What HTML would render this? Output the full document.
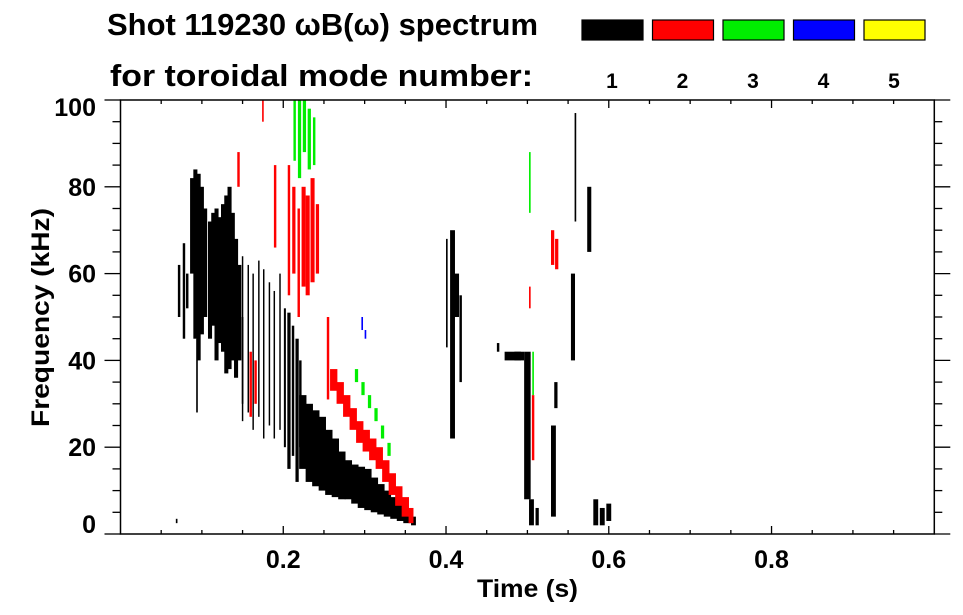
<!DOCTYPE html>
<html><head><meta charset="utf-8"><style>
html,body{margin:0;padding:0;background:#fff;}
svg{display:block;font-family:"Liberation Sans",Arial,sans-serif;font-weight:bold;}
</style></head><body>
<svg id="chart" width="963" height="615" viewBox="0 0 963 615" xmlns="http://www.w3.org/2000/svg">
<text x="107" y="35" font-size="31" textLength="431" lengthAdjust="spacingAndGlyphs">Shot 119230 ωB(ω) spectrum</text>
<text x="110" y="86" font-size="31" textLength="423" lengthAdjust="spacingAndGlyphs">for toroidal mode number:</text>
<g id="legend"></g>
<g id="marks"></g>
<g id="axes"></g>
<text x="477" y="597" font-size="25" textLength="101" lengthAdjust="spacingAndGlyphs">Time (s)</text>
<text transform="translate(49,427) rotate(-90)" font-size="25" textLength="219" lengthAdjust="spacingAndGlyphs">Frequency (kHz)</text>
</svg>
<script>
// mode labels / colors
const modeLabels=["1","2","3","4","5"];
const modeColors=["#000000","#ff0000","#00ee00","#0000ff","#ffff00"];
const xTicks=[0.2,0.4,0.6,0.8];
const xTickLabels=["0.2","0.4","0.6","0.8"];
const yTicks=[0,20,40,60,80,100];
const yTickLabels=["0","20","40","60","80","100"];
// Mode 1 (black) segments: time, low freq, high freq, duration
const m1T=[0.069,0.072,0.078,0.082,0.088,0.092,0.096,0.100,0.104,0.094,0.110,0.114,0.118,0.122,0.126,0.130,0.134,0.138,0.142,0.146,0.150,
0.150,0.157,0.163,0.170,0.176,0.183,0.189,0.196,0.202,
0.207,0.212,0.217,0.221,
0.224,0.232,0.240,0.248,0.256,0.264,0.272,0.280,0.288,0.296,0.304,0.312,0.320,0.328,0.336,0.344,0.352,0.360,
0.401,0.408,0.413,0.418,0.464,0.482,0.490,0.500,0.505,0.512,0.532,0.535,0.556,0.559,0.576,0.584,0.592,0.600];
const m1Lo=[2.5,50,45,52,60,45,40,46,50,28,45,48,40,44,42,37,38,40,36,40,30,
26,28,24,27,22,25,22,24,20,
15,18,12,20,
15,12,11,10,9,8.5,8,8,7,6,5.5,5,4.5,4,3.5,3,2.5,2,
43,22,50,35,42,40,40,8,2,2,4,29,40,72,65,2,2,3];
const m1Hi=[3.5,62,67,60,82,84,83,80,75,45,72,74,75,73,76,78,80,74,68,62,50,
64,62,60,63,61,58,56,60,52,
51,48,45,40,
32,30,28.5,27,24,22,19,17,16,15.5,15,13,11.5,10,8.5,7,5.5,4,
68,70,60,55,44,42,42,42,8,6,25,35,60,97,80,8,6,7];
const m1D=[0.002,0.003,0.003,0.003,0.005,0.005,0.005,0.005,0.005,0.002,0.005,0.005,0.005,0.005,0.005,0.005,0.005,0.005,0.005,0.005,0.002,
0.0018,0.0018,0.0018,0.0018,0.0018,0.0018,0.0018,0.0018,0.0025,
0.004,0.003,0.004,0.003,
0.009,0.009,0.009,0.009,0.009,0.009,0.009,0.009,0.009,0.009,0.009,0.009,0.009,0.009,0.009,0.009,0.009,0.006,
0.002,0.006,0.006,0.003,0.003,0.02,0.012,0.008,0.006,0.004,0.006,0.004,0.005,0.002,0.005,0.006,0.006,0.006];
// Mode 2 (red)
const m2T=[0.145,0.175,0.19,0.16,0.166,0.207,0.213,0.219,0.225,0.230,0.236,0.242,0.255,
0.262,0.270,0.278,0.286,0.294,0.302,0.310,0.318,0.326,0.334,0.342,0.350,0.357,
0.503,0.507,0.531,0.536];
const m2Lo=[80,95,66,27,30,55,60,50,57,55,58,60,31,
33,30,27,24,21,19,17,15,12,9,6.5,4,2.5,
52,17,62,61];
const m2Hi=[88,100,85,42,40,85,80,75,80,78,82,76,50,
38,35,32,29,26,24,22,20,17,14,11,8.5,6,
57,32,70,68];
const m2D=[0.003,0.002,0.003,0.003,0.003,0.003,0.004,0.003,0.005,0.005,0.005,0.004,0.003,
0.009,0.009,0.009,0.009,0.009,0.009,0.009,0.009,0.009,0.009,0.009,0.009,0.006,
0.002,0.003,0.004,0.004];
// Mode 3 (green)
const m3T=[0.214,0.220,0.226,0.232,0.238,0.290,0.298,0.306,0.314,0.322,0.330,0.503,0.507];
const m3Lo=[86,82,88,84,85,35,32,29,26,22,18,74,32];
const m3Hi=[100,100,100,98,96,38,35,32,29,25,21,88,42];
const m3D=[0.003,0.004,0.004,0.004,0.003,0.004,0.004,0.004,0.004,0.004,0.004,0.002,0.002];
// Mode 4 (blue)
const m4T=[0.297,0.301];
const m4Lo=[47,45];
const m4Hi=[50,47];
const m4D=[0.002,0.002];

const NS="http://www.w3.org/2000/svg";
const X0=120.5,X1=934.3,Y0=534,Y1=100;
const sx=t=>X0+(X1-X0)*t;
const sy=f=>Y0+(Y1-Y0)*f/100;
function el(tag,attrs,parent){const e=document.createElementNS(NS,tag);for(const k in attrs)e.setAttribute(k,attrs[k]);parent.appendChild(e);return e;}

const legend=document.getElementById('legend');
modeLabels.forEach((lab,i)=>{
  const bx=582+i*70.5;
  const r=el('rect',{x:bx,y:20,width:61,height:20,fill:modeColors[i],stroke:'#000','stroke-width':1.2},legend);
  
  
  const t=el('text',{x:bx+30,y:88,'font-size':21,'text-anchor':'middle'},legend);
  t.textContent=lab;
  
  
});

const marks=document.getElementById('marks');
function drawSeries(T,Lo,Hi,D,color,name){
  for(let i=0;i<T.length;i++){
    const x=sx(T[i]-D[i]/2),w=Math.max(1,sx(T[i]+D[i]/2)-x);
    const y=sy(Hi[i]),h=Math.max(1,sy(Lo[i])-y);
    const r=el('rect',{x:x,y:y,width:w,height:h,fill:color},marks);
    
    
  }
}
drawSeries(m1T,m1Lo,m1Hi,m1D,modeColors[0],'mode-1');
drawSeries(m2T,m2Lo,m2Hi,m2D,modeColors[1],'mode-2');
drawSeries(m3T,m3Lo,m3Hi,m3D,modeColors[2],'mode-3');
drawSeries(m4T,m4Lo,m4Hi,m4D,modeColors[3],'mode-4');

const axes=document.getElementById('axes');
const frame=el('rect',{x:X0,y:Y1,width:X1-X0,height:Y0-Y1,fill:'none',stroke:'#000','stroke-width':1.5},axes);


for(let k=1;k<20;k++){
  const t=k*0.05,x=sx(t),major=(k%4===0);
  const L=major?8:4;
  el('line',{x1:x,y1:Y0,x2:x,y2:Y0-L,stroke:'#000','stroke-width':1.3},axes);
  el('line',{x1:x,y1:Y1,x2:x,y2:Y1+L,stroke:'#000','stroke-width':1.3},axes);
}
xTicks.forEach((t,i)=>{
  const tx=el('text',{x:sx(t),y:568,'font-size':25,'text-anchor':'middle'},axes);
  tx.textContent=xTickLabels[i];
  
  
});
for(let k=0;k<=20;k++){
  const f=k*5,y=sy(f),major=(k%4===0);
  const L=major?16:8;
  el('line',{x1:X0,y1:y,x2:X0-L,y2:y,stroke:'#000','stroke-width':1.3},axes);
  el('line',{x1:X1,y1:y,x2:X1+L,y2:y,stroke:'#000','stroke-width':1.3},axes);
}
yTicks.forEach((f,i)=>{
  let by=sy(f)+9;
  if(f===0) by=533;
  if(f===100) by=116;
  const tx=el('text',{x:96,y:by,'font-size':25,'text-anchor':'end'},axes);
  tx.textContent=yTickLabels[i];
  
  
});
</script>
</body></html>
